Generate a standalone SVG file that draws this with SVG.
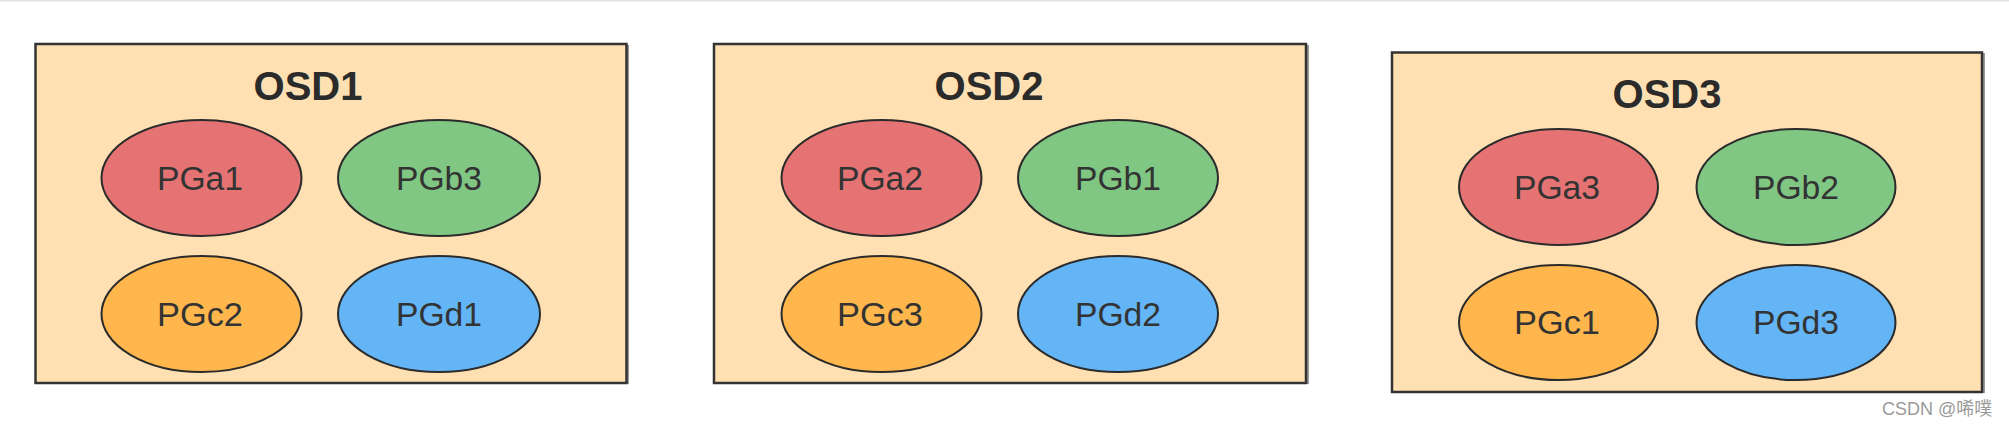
<svg xmlns="http://www.w3.org/2000/svg" width="2009" height="428" viewBox="0 0 2009 428">
<style>
.osd{fill:#FFE0B2;stroke:#333;stroke-width:2.5}
.shadow{fill:none;stroke:#999;stroke-width:2}
.title{font-family:"Liberation Sans",Arial,sans-serif;font-weight:bold;font-size:40px;fill:#2b2b2b;text-anchor:middle}
.pg{stroke:#2b2b2b;stroke-width:2}
.lbl{font-family:"Liberation Sans",Arial,sans-serif;font-size:34px;fill:#333;text-anchor:middle}
.a{fill:#E57373}.b{fill:#81C784}.c{fill:#FFB74D}.d{fill:#64B5F6}
.wm{font-family:"Liberation Sans","Noto Sans CJK SC",sans-serif;font-size:18px;fill:#9a9a9a}
</style>
<rect x="0" y="0" width="2009" height="428" fill="#fff"/>
<line x1="0" y1="0.5" x2="2009" y2="0.5" stroke="#e2e2e2" stroke-width="2"/>
<g id="connectors"></g>

<g id="osd1">
<line class="shadow" x1="628" y1="45" x2="628" y2="384"/>
<rect class="osd" x="35.5" y="44" width="591" height="339"/>
<text class="title" x="308" y="100">OSD1</text>
</g>
<g id="pga1"><ellipse class="pg a" cx="201.5" cy="178" rx="100" ry="58"/><text class="lbl" x="200" y="190" textLength="86" lengthAdjust="spacingAndGlyphs">PGa1</text></g>
<g id="pgb3"><ellipse class="pg b" cx="439" cy="178" rx="101" ry="58"/><text class="lbl" x="439" y="190" textLength="86" lengthAdjust="spacingAndGlyphs">PGb3</text></g>
<g id="pgc2"><ellipse class="pg c" cx="201.5" cy="314" rx="100" ry="58"/><text class="lbl" x="200" y="326" textLength="86" lengthAdjust="spacingAndGlyphs">PGc2</text></g>
<g id="pgd1"><ellipse class="pg d" cx="439" cy="314" rx="101" ry="58"/><text class="lbl" x="439" y="326" textLength="86" lengthAdjust="spacingAndGlyphs">PGd1</text></g>

<g id="osd2">
<line class="shadow" x1="1308" y1="45" x2="1308" y2="384"/>
<rect class="osd" x="714" y="44" width="592" height="339"/>
<text class="title" x="989" y="100">OSD2</text>
</g>
<g id="pga2"><ellipse class="pg a" cx="881.5" cy="178" rx="100" ry="58"/><text class="lbl" x="880" y="190" textLength="86" lengthAdjust="spacingAndGlyphs">PGa2</text></g>
<g id="pgb1"><ellipse class="pg b" cx="1118" cy="178" rx="100" ry="58"/><text class="lbl" x="1118" y="190" textLength="86" lengthAdjust="spacingAndGlyphs">PGb1</text></g>
<g id="pgc3"><ellipse class="pg c" cx="881.5" cy="314" rx="100" ry="58"/><text class="lbl" x="880" y="326" textLength="86" lengthAdjust="spacingAndGlyphs">PGc3</text></g>
<g id="pgd2"><ellipse class="pg d" cx="1118" cy="314" rx="100" ry="58"/><text class="lbl" x="1118" y="326" textLength="86" lengthAdjust="spacingAndGlyphs">PGd2</text></g>

<g id="osd3">
<line class="shadow" x1="1984" y1="53" x2="1984" y2="393"/>
<rect class="osd" x="1392" y="52.5" width="590" height="339.5"/>
<text class="title" x="1667" y="108">OSD3</text>
</g>
<g id="pga3"><ellipse class="pg a" cx="1558.5" cy="187" rx="99.5" ry="58"/><text class="lbl" x="1557" y="199" textLength="86" lengthAdjust="spacingAndGlyphs">PGa3</text></g>
<g id="pgb2"><ellipse class="pg b" cx="1796" cy="187" rx="99.5" ry="58"/><text class="lbl" x="1796" y="199" textLength="86" lengthAdjust="spacingAndGlyphs">PGb2</text></g>
<g id="pgc1"><ellipse class="pg c" cx="1558.5" cy="322.5" rx="99.5" ry="57.5"/><text class="lbl" x="1557" y="334" textLength="86" lengthAdjust="spacingAndGlyphs">PGc1</text></g>
<g id="pgd3"><ellipse class="pg d" cx="1796" cy="322.5" rx="99.5" ry="57.5"/><text class="lbl" x="1796" y="334" textLength="86" lengthAdjust="spacingAndGlyphs">PGd3</text></g>

<text class="wm" x="1882" y="415">CSDN @唏噗</text>
</svg>
